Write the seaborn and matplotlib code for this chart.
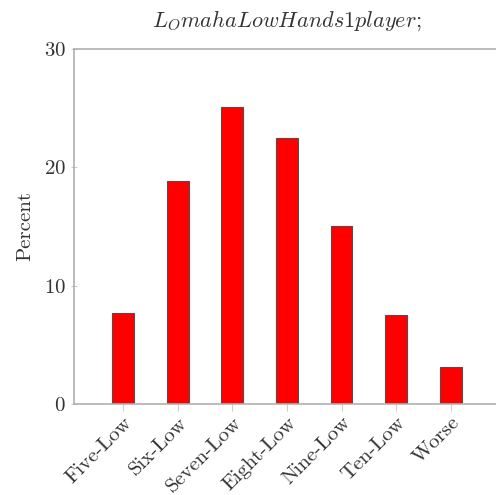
import matplotlib
matplotlib.use("Agg")
import matplotlib.pyplot as plt
import seaborn as sns
import pandas as pd

# data
hands = ['Five-Low', 'Six-Low', 'Seven-Low', 'Eight-Low', 'Nine-Low', 'Ten-Low', 'Worse']
percent = [7.7, 18.85, 25.1, 22.5, 15.05, 7.5, 3.1]

df = pd.DataFrame({'hand': hands, 'percent': percent})

sns.set_style('white')
plt.rcParams['font.family'] = ['cmr10', 'DejaVu Serif']
plt.rcParams['mathtext.fontset'] = 'cm'
plt.rcParams['axes.formatter.use_mathtext'] = True

fig = plt.figure(figsize=(4.96, 4.95), dpi=100, facecolor='white')
ax = fig.add_axes([0.149, 0.184, 0.859, 0.717])

sns.barplot(data=df, x='hand', y='percent', color='#ff0000', saturation=1,
            width=0.4, edgecolor='#5a4a4a', linewidth=0.8, ax=ax)

ax.set_xlim(-0.9, 6.9)
ax.set_ylim(0, 30)
ax.set_yticks([0, 10, 20, 30])
ax.set_xlabel('')
ax.set_ylabel('Percent', fontsize=15, color='#333333', labelpad=7)
ax.set_title(r'$L_Omaha Low Hands 1 player;$', fontsize=16, color='#333333', pad=16)

for side in ['left', 'bottom', 'top']:
    ax.spines[side].set_color('#b0b0b0')
    ax.spines[side].set_linewidth(1.2)
ax.spines['right'].set_visible(False)

ax.tick_params(axis='y', labelsize=15, labelcolor='#333333', length=4,
               direction='inout', color='#cccccc', left=True, pad=4)
ax.tick_params(axis='x', labelsize=15, labelcolor='#333333', length=5,
               direction='out', color='#cccccc', bottom=True, pad=2)
plt.setp(ax.get_xticklabels(), rotation=45, ha='right', rotation_mode='anchor')

fig.savefig('out.png', dpi=100, facecolor='white')
